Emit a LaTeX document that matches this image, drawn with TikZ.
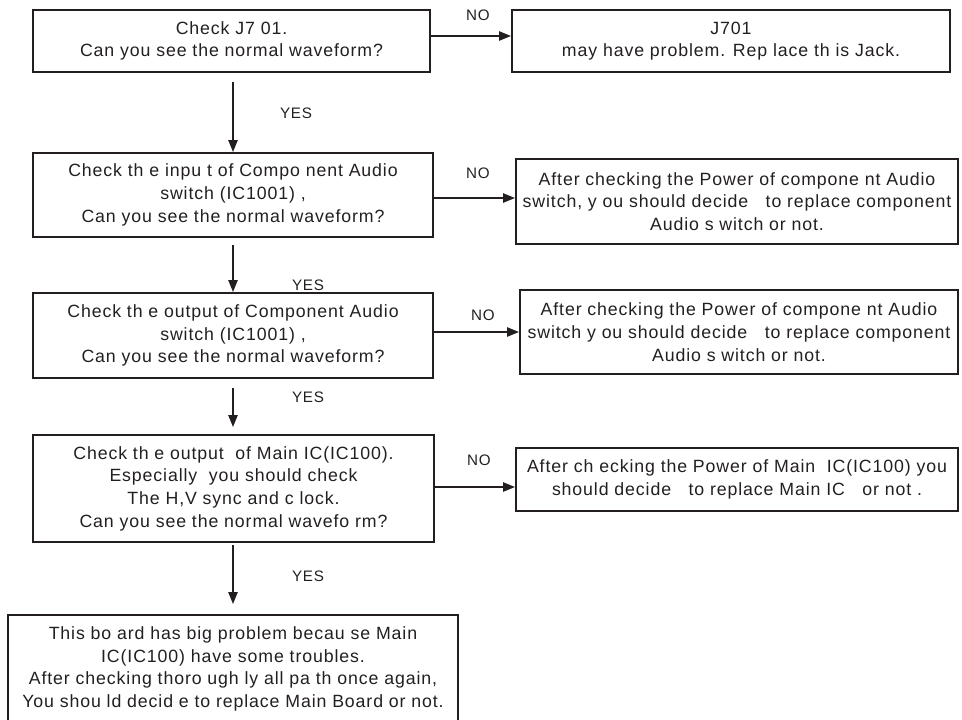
\documentclass[tikz,border=0pt]{standalone}
\usepackage{fontspec}
\setmainfont{Liberation Sans}[LetterSpace=5]
\usetikzlibrary{arrows.meta}
\definecolor{ink}{HTML}{231F20}
\begin{document}
\begin{tikzpicture}[x=0.75pt,y=-0.75pt,
  box/.style={draw=ink,line width=1.5pt,align=center,inner sep=0pt,
    font=\fontsize{13.3pt}{17pt}\selectfont,text=ink},
  lbl/.style={font=\fontsize{11.4pt}{13pt}\selectfont,text=ink,inner sep=0pt},
  arr/.style={draw=ink,line width=1.1pt,-{Triangle[length=9pt,width=7pt]}}]
\useasboundingbox (0,0) rectangle (962,719);
% nodes
\node[box,minimum width=397*0.75pt,minimum height=62*0.75pt] (b1) at (231.5,41)
  {Check J7 01.\\Can you see the normal waveform?};
\node[box,minimum width=438*0.75pt,minimum height=62*0.75pt] (r1) at (731,41)
  {J701\\may have problem. Rep lace th is Jack.};
\node[box,minimum width=400*0.75pt,minimum height=84*0.75pt] (b2) at (233,195)
  {Check th e inpu t of Compo nent Audio\\switch (IC1001) ,\\Can you see the normal waveform?};
\node[box,minimum width=442*0.75pt,minimum height=85*0.75pt] (r2) at (737,201.5)
  {After checking the Power of compone nt Audio\\switch, y ou should decide \ \ to replace component\\Audio s witch or not.};
\node[box,minimum width=400*0.75pt,minimum height=85*0.75pt] (b3) at (233,335.5)
  {Check th e output of Component Audio\\switch (IC1001) ,\\Can you see the normal waveform?};
\node[box,minimum width=438*0.75pt,minimum height=84*0.75pt] (r3) at (739,332)
  {After checking the Power of compone nt Audio\\switch y ou should decide \ \ to replace component\\Audio s witch or not.};
\node[box,minimum width=401*0.75pt,minimum height=107*0.75pt] (b4) at (233.5,488.5)
  {Check th e output \ of Main IC(IC100).\\Especially \ you should check\\The H,V sync and c lock.\\Can you see the normal wavefo rm?};
\node[box,minimum width=442*0.75pt,minimum height=63*0.75pt] (r4) at (737,479.5)
  {After ch ecking the Power of Main \ IC(IC100) you\\should decide \ \ to replace Main IC \ \ or not .};
\node[box,minimum width=450*0.75pt,minimum height=108*0.75pt] (b5) at (233,669)
  {This bo ard has big problem becau se Main\\IC(IC100) have some troubles.\\After checking thoro ugh ly all pa th once again,\\You shou ld decid e to replace Main Board or not.};
% labels
\node[lbl] (n1) at (478,15) {NO};
\node[lbl] (n2) at (478,173) {NO};
\node[lbl] (n3) at (483,315) {NO};
\node[lbl] (n4) at (479,460) {NO};
\node[lbl] (y1) at (296,113) {YES};
\node[lbl] (y2) at (308,285) {YES};
\node[lbl] (y3) at (308,397) {YES};
\node[lbl] (y4) at (308,576) {YES};
% helper coordinates for connector heights
\coordinate (h1) at (0,36);
\coordinate (h2) at (0,198);
\coordinate (h3) at (0,332);
\coordinate (h4) at (0,487);
\coordinate (v1) at (233,82);
\coordinate (v2) at (233,245);
\coordinate (v3) at (233,388);
\coordinate (v3e) at (233,427);
\coordinate (v4) at (233,545);
\coordinate (v4e) at (233,604);
% connectors
\draw[arr] (b1.east |- h1) -- (r1.west |- h1);
\draw[arr] (b2.east |- h2) -- (r2.west |- h2);
\draw[arr] (b3.east |- h3) -- (r3.west |- h3);
\draw[arr] (b4.east |- h4) -- (r4.west |- h4);
\draw[arr] (v1) -- (v1 |- b2.north);
\draw[arr] (v2) -- (v2 |- b3.north);
\draw[arr] (v3) -- (v3e);
\draw[arr] (v4) -- (v4e);
\end{tikzpicture}
\end{document}
